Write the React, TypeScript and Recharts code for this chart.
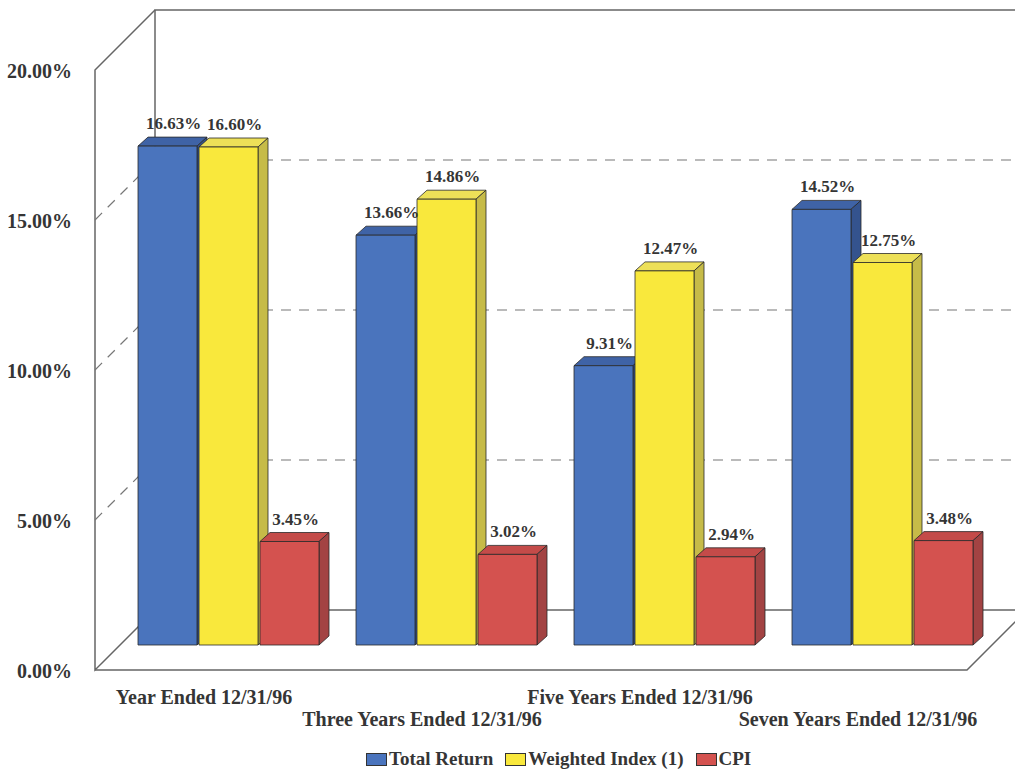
import {
  Bar,
  BarChart,
  LabelList,
  Legend,
  ReferenceArea,
  ReferenceLine,
  XAxis,
  YAxis,
} from 'recharts'

const CATEGORIES = [
  'Year Ended 12/31/96',
  'Three Years Ended 12/31/96',
  'Five Years Ended 12/31/96',
  'Seven Years Ended 12/31/96',
]
const TOTAL_RETURN = [16.63, 13.66, 9.31, 14.52]
const WEIGHTED_INDEX = [16.6, 14.86, 12.47, 12.75]
const CPI = [3.45, 3.02, 2.94, 3.48]
const Y_TICKS = [0, 5, 10, 15, 20]
const GRID_VALUES = [5, 10, 15]

const SERIES = [
  { key: 'totalReturn', name: 'Total Return', front: '#4a74bd', top: '#3f63a6', side: '#34538e' },
  { key: 'weightedIndex', name: 'Weighted Index (1)', front: '#f9e83c', top: '#ede058', side: '#c6bb48' },
  { key: 'cpi', name: 'CPI', front: '#d4524f', top: '#c44b49', side: '#a34343' },
]

const rows = CATEGORIES.map((category, i) => ({
  category,
  totalReturn: TOTAL_RETURN[i],
  weightedIndex: WEIGHTED_INDEX[i],
  cpi: CPI[i],
}))

const FONT = '"Liberation Serif", "Times New Roman", serif'
const TEXT = '#353535'
const FRAME = '#666'

// the bars sit on a middle plane; front and back walls are shifted from it
const FRONT = 25
const BACK = 35
const DEPTH = 10
const DEPTH_Y = 9

function makeShape(s: (typeof SERIES)[number]) {
  return (props: any) => {
    const { x, y, width: w, height: h } = props
    if (!w || h == null) return <g />
    return (
      <g stroke="#2a2a2a" strokeWidth={0.8} strokeLinejoin="round">
        <polygon
          points={`${x},${y} ${x + DEPTH},${y - DEPTH_Y} ${x + w + DEPTH},${y - DEPTH_Y} ${x + w},${y}`}
          fill={s.top}
        />
        <polygon
          points={`${x + w},${y} ${x + w + DEPTH},${y - DEPTH_Y} ${x + w + DEPTH},${y + h - DEPTH_Y} ${x + w},${y + h}`}
          fill={s.side}
        />
        <rect x={x} y={y} width={w} height={h} fill={s.front} />
      </g>
    )
  }
}

function renderLabel(props: any) {
  const vb = props.viewBox || props
  const x = vb.x ?? props.x
  const y = vb.y ?? props.y
  const w = vb.width ?? props.width
  return (
    <text
      x={x + w / 2 + 6}
      y={y - 17}
      textAnchor="middle"
      fontFamily={FONT}
      fontWeight={700}
      fontSize={17}
      fill={TEXT}
    >
      {`${Number(props.value).toFixed(2)}%`}
    </text>
  )
}

function Frame(props: any) {
  const { x, y, width, height } = props
  const bottom = y + height
  const right = x + width
  const fx = x - FRONT
  const bx = x + BACK
  return (
    <g fill="none" stroke={FRAME} strokeWidth={1.5}>
      <polyline points={`${bx},${bottom - BACK} ${bx},${y - BACK} ${right + BACK},${y - BACK}`} />
      <polyline
        points={`${bx},${y - BACK} ${fx},${y + FRONT} ${fx},${bottom + FRONT} ${bx},${bottom - BACK}`}
      />
      <polyline
        points={`${fx},${bottom + FRONT} ${right - FRONT},${bottom + FRONT} ${right + BACK},${bottom - BACK} ${bx},${bottom - BACK}`}
      />
    </g>
  )
}

function GridLine(props: any) {
  const { x1, y1, x2 } = props
  return (
    <g fill="none" stroke="#777" strokeWidth={1.2} strokeDasharray="10 8">
      <line x1={x1 + BACK} y1={y1 - BACK} x2={x2 + BACK} y2={y1 - BACK} />
      <line x1={x1 - FRONT} y1={y1 + FRONT} x2={x1 + BACK} y2={y1 - BACK} />
    </g>
  )
}

function YTick(props: any) {
  const { x, y, payload } = props
  return (
    <text
      x={x - 46}
      y={y + FRONT + 1}
      textAnchor="end"
      dominantBaseline="central"
      fontFamily={FONT}
      fontWeight={700}
      fontSize={20}
      fill={TEXT}
    >
      {`${Number(payload.value).toFixed(2)}%`}
    </text>
  )
}

function XTick(props: any) {
  const { x, y, payload, index } = props
  const row = index % 2
  return (
    <text
      x={x - FRONT}
      y={y + 57 + row * 22}
      textAnchor="middle"
      fontFamily={FONT}
      fontWeight={700}
      fontSize={20}
      fill={TEXT}
    >
      {payload.value}
    </text>
  )
}

function LegendContent(props: any) {
  const order = SERIES.map((s) => s.name)
  const items = [...(props.payload || [])].sort(
    (a: any, b: any) => order.indexOf(a.value) - order.indexOf(b.value),
  )
  return (
    <div
      style={{
        display: 'flex',
        alignItems: 'center',
        paddingTop: 5,
        fontFamily: FONT,
        fontWeight: 700,
        fontSize: 19,
        color: TEXT,
        whiteSpace: 'nowrap',
      }}
    >
      {items.map((it: any) => (
        <span key={it.value} style={{ display: 'flex', alignItems: 'center', marginRight: 12 }}>
          <span
            style={{
              display: 'inline-block',
              width: 19,
              height: 11,
              background: it.color,
              border: '1px solid #333',
              marginRight: 2,
            }}
          />
          {it.value}
        </span>
      ))}
    </div>
  )
}

export default function App() {
  return (
    <div style={{ position: 'absolute', left: 0, top: 0, background: '#fff' }}>
      <BarChart
        width={1015}
        height={773}
        data={rows}
        margin={{ top: 45, right: 23, left: 0, bottom: 2 }}
        barCategoryGap={18}
        barGap={2}
      >
        <ReferenceArea y1={0} y2={20} shape={Frame} zIndex={-20} />
        {GRID_VALUES.map((v) => (
          <ReferenceLine key={v} y={v} shape={GridLine} zIndex={-10} />
        ))}
        <XAxis
          dataKey="category"
          height={98}
          axisLine={false}
          tickLine={false}
          tickSize={0}
          interval={0}
          tick={XTick}
        />
        <YAxis
          domain={[0, 20]}
          ticks={Y_TICKS}
          width={120}
          axisLine={false}
          tickLine={false}
          tickSize={0}
          interval={0}
          tick={YTick}
        />
        <Legend
          verticalAlign="bottom"
          height={28}
          content={LegendContent}
          wrapperStyle={{ left: 366, width: 'auto' }}
        />
        {SERIES.map((s) => (
          <Bar
            key={s.key}
            dataKey={s.key}
            name={s.name}
            fill={s.front}
            shape={makeShape(s)}
            isAnimationActive={false}
          >
            <LabelList dataKey={s.key} content={renderLabel} />
          </Bar>
        ))}
      </BarChart>
    </div>
  )
}
